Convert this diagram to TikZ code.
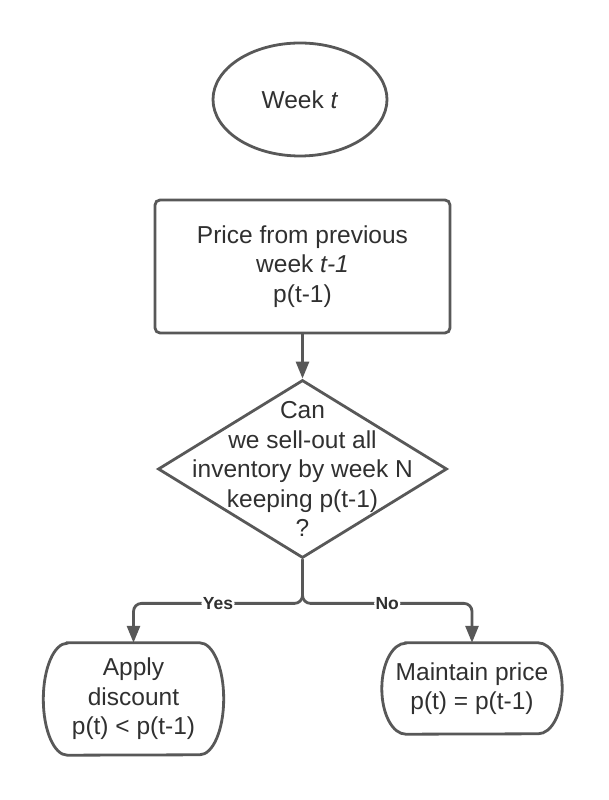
\documentclass[tikz,border=0pt]{standalone}
\usepackage{fontspec}
\setmainfont{Liberation Sans}
\usetikzlibrary{shapes.geometric,arrows.meta}
\definecolor{linegray}{RGB}{88,88,88}
\definecolor{textgray}{RGB}{48,48,48}
\tikzset{
  x=1pt, y=1pt,
  txt/.style={font=\fontsize{24.5}{29.5}\selectfont, text=textgray, align=center},
  outline/.style={draw=linegray, line width=2.8pt},
  startbox/.style={ellipse, outline, txt, minimum width=174pt, minimum height=113pt, inner sep=0pt},
  procbox/.style={rectangle, outline, txt, rounded corners=5pt, minimum width=295pt, minimum height=133pt, inner sep=0pt},
  decbox/.style={diamond, outline, minimum width=289pt, minimum height=178pt, inner sep=0pt},
  termbox/.style={rectangle, txt, minimum width=180pt, inner sep=0pt},
  conn/.style={draw=linegray, line width=2.8pt, rounded corners=8pt, -{Triangle[length=17pt,width=13pt]}},
  lbl/.style={font=\fontsize{17.5}{20}\selectfont\bfseries, text=textgray, fill=white, inner sep=1.5pt}
}
\begin{document}
\begin{tikzpicture}
\useasboundingbox (0,0) rectangle (608,800);
\node[startbox] (wk) at (300,700.5) {Week \textit{t}};
\node[procbox] (prev) at (302.5,533.5) {Price from previous\\ week \textit{t-1}\\ p(t-1)};
\node[decbox, label={[txt]center:{Can\\ we sell-out all\\ inventory by week N\\ keeping p(t-1)\\ ?}}] (dec) at (302.5,331) {};
\node[termbox, minimum height=112pt] (disc) at (133.5,101) {Apply\\ discount\\ p(t) < p(t-1)};
\node[termbox, minimum height=91pt] (keep) at (472,111.5) {Maintain price\\ p(t) = p(t-1)};
% terminator outlines
\draw[outline] ([xshift=24pt]disc.north west) -- ([xshift=-24pt]disc.north east)
  arc[start angle=90, end angle=-90, x radius=24pt, y radius=56pt]
  -- ([xshift=24pt]disc.south west)
  arc[start angle=270, end angle=90, x radius=24pt, y radius=56pt] -- cycle;
\draw[outline] ([xshift=24pt]keep.north west) -- ([xshift=-24pt]keep.north east)
  arc[start angle=90, end angle=-90, x radius=24pt, y radius=45.5pt]
  -- ([xshift=24pt]keep.south west)
  arc[start angle=270, end angle=90, x radius=24pt, y radius=45.5pt] -- cycle;
\coordinate (J) at ([yshift=-44pt]dec.south);
\draw[conn] (prev.south) -- (dec.north);
\draw[conn] (dec.south) -- (J) -| node[lbl, pos=0.25] {Yes} (disc.north);
\draw[conn] (dec.south) -- (J) -| node[lbl, pos=0.25] {No} (keep.north);
\end{tikzpicture}
\end{document}
